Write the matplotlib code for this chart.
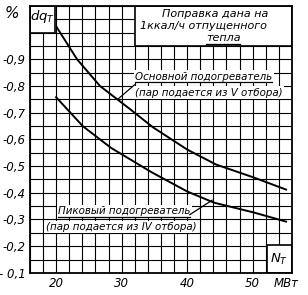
import matplotlib.pyplot as plt
from matplotlib.patches import Rectangle
from matplotlib.lines import Line2D

# heat output N_T, MW  /  correction dq_T, %
main_x = [20.1, 23.2, 26.7, 31.3, 34.8, 40.0, 44.4, 50.2, 55.1]
main_y = [-1.02, -0.90, -0.80, -0.713, -0.645, -0.562, -0.506, -0.457, -0.412]
peak_x = [20.0, 24.1, 28.4, 34.5, 40.0, 44.1, 50.2, 55.1]
peak_y = [-0.758, -0.649, -0.568, -0.478, -0.405, -0.363, -0.326, -0.292]

x_ticks = [20, 30, 40, 50]
y_ticks = [-0.9, -0.8, -0.7, -0.6, -0.5, -0.4, -0.3, -0.2, -0.1]
y_labels = ['-0,9', '-0,8', '-0,7', '-0,6', '-0,5', '-0,4', '-0,3', '-0,2', '- 0,1']

plt.rcParams['font.family'] = 'DejaVu Sans'

def hand(size=7.4):
    return dict(style='italic', fontsize=size, color='black')

fig = plt.figure(figsize=(3.08, 2.95), dpi=100)
ax = fig.add_axes([0.097, 0.075, 0.851, 0.905])
ax.set_xlim(16, 56)
ax.set_ylim(-0.1, -1.1)

for gx in range(16, 57, 2):
    ax.axvline(gx, color='black', lw=0.8, zorder=1)
for i in range(21):
    ax.axhline(-0.1 - 0.05 * i, color='black', lw=0.8, zorder=1)

ax.plot(main_x, main_y, color='black', lw=1.4, zorder=3)
ax.plot(peak_x, peak_y, color='black', lw=1.4, zorder=3)

# white boxes
ax.add_patch(Rectangle((16, -1.1), 3.8, 0.1, facecolor='white', edgecolor='black', lw=1.2, zorder=2))
ax.add_patch(Rectangle((32, -1.1), 24, 0.15, facecolor='white', edgecolor='black', lw=1.2, zorder=2))
ax.add_patch(Rectangle((52.2, -0.205), 3.8, 0.105, facecolor='white', edgecolor='black', lw=1.2, zorder=2))

ax.text(44.3, -1.07, 'Поправка дана на', ha='center', va='center', zorder=4, **hand(8))
ax.text(42.5, -1.023, '1ккал/ч отпущенного', ha='center', va='center', zorder=4, **hand(8))
t_heat = ax.text(45.5, -0.978, 'тепла', ha='center', va='center', zorder=4, **hand(8))
ax.text(17.9, -1.06, r'$dq_T$', ha='center', va='center', fontsize=9.5, zorder=4)
fig.text(0.04, 0.955, '%', ha='center', va='center', fontsize=11, style='italic')
ax.text(54.1, -0.15, r'$N_T$', ha='center', va='center', fontsize=9.5, zorder=4)

t_main = ax.text(32.1, -0.835, 'Основной подогреватель', ha='left', va='center', zorder=4,
                 bbox=dict(facecolor='white', edgecolor='none', pad=1), **hand())
ax.text(32.0, -0.775, '(пар подается из V отбора)', ha='left', va='center', zorder=4,
        bbox=dict(facecolor='white', edgecolor='none', pad=1), **hand())
ax.plot([29.4, 32.0], [-0.75, -0.805], color='black', lw=0.9, zorder=4)

t_peak = ax.text(20.3, -0.33, 'Пиковый подогреватель', ha='left', va='center', zorder=4,
                 bbox=dict(facecolor='white', edgecolor='none', pad=1), **hand())
ax.text(18.4, -0.272, '(пар подается из IV отбора)', ha='left', va='center', zorder=4,
        bbox=dict(facecolor='white', edgecolor='none', pad=1), **hand())
ax.plot([40.4, 43.8], [-0.318, -0.372], color='black', lw=0.9, zorder=4)

ax.set_xticks(x_ticks)
ax.set_xticklabels([str(t) for t in x_ticks], style='italic', fontsize=8.5)
ax.set_yticks(y_ticks)
ax.set_yticklabels(y_labels, style='italic', fontsize=8.5)
ax.tick_params(length=0, pad=3)
fig.text(0.93, 0.038, 'МВт', ha='center', va='center', style='italic', fontsize=8.5)

for s in ax.spines.values():
    s.set_linewidth(1.3)

# underline the hand-written labels
fig.canvas.draw()
r = fig.canvas.get_renderer()
W, H = fig.bbox.width, fig.bbox.height
for t in (t_heat, t_main, t_peak):
    t.set_bbox(None)
    bb = t.get_window_extent(r)
    y = (bb.y0 - 0.5) / H
    fig.add_artist(Line2D([bb.x0 / W, bb.x1 / W], [y, y], color='black', lw=0.9, zorder=5))
    t.set_bbox(dict(facecolor='white', edgecolor='none', pad=1))
t_heat.set_bbox(None)

fig.savefig('out.png', dpi=100)
